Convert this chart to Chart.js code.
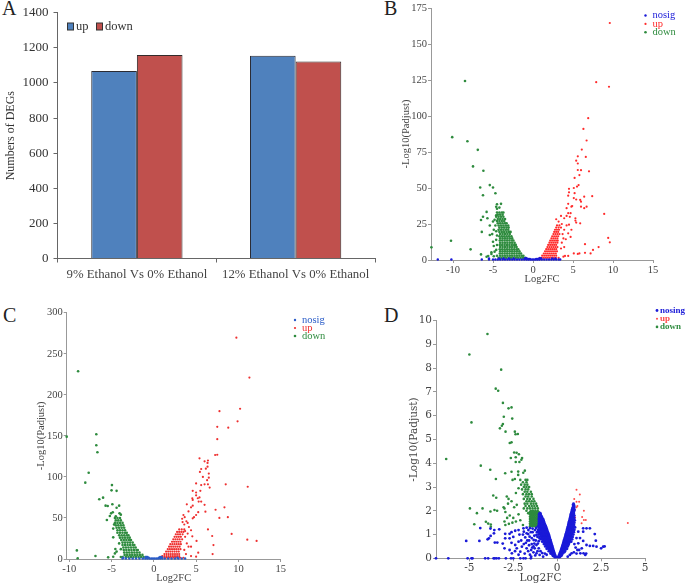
<!DOCTYPE html>
<html>
<head>
<meta charset="utf-8">
<script src="https://cdn.jsdelivr.net/npm/chart.js@4"></script>
<style>
  body { margin: 0; background: #fff; width: 685px; height: 583px; overflow: hidden; position: relative; }
  canvas { position: absolute; }
  .tag { position: absolute; font: 20px "Liberation Serif", serif; color: #222; }
</style>
</head>
<body>
<div class="tag" style="left:2px;top:-3px">A</div>
<div class="tag" style="left:384px;top:-3px">B</div>
<div class="tag" style="left:3px;top:304px">C</div>
<div class="tag" style="left:384px;top:304px">D</div>
<canvas id="chartA" width="380" height="295" style="left:0;top:0"></canvas>
<canvas id="chartB" width="305" height="295" style="left:380px;top:0"></canvas>
<canvas id="chartC" width="345" height="285" style="left:0;top:300px"></canvas>
<canvas id="chartD" width="305" height="285" style="left:380px;top:300px"></canvas>
<script>
// panel A values
const categoriesA = ['9% Ethanol Vs 0% Ethanol', '12% Ethanol Vs 0% Ethanol'];
const upA = [1068, 1155];
const downA = [1160, 1122];

// panels B, C, D: single points are [x, y], dense clouds are rows [y, x, x, x...]
const legendBC = ['nosig', 'up', 'down'];
const legendD = ['nosing', 'up', 'down'];

const upB = [[9.6,164.6],[7.9,123.5],[9.5,120.3],[6.9,98.5],[6.3,91],[6.7,83],[6.1,76.7],[5.6,72],[6.6,71.6],[5.4,69],[5.6,67],[7,61.6],[5.6,62.5],[6,62.4],[5.8,59],[5.2,57],[5.7,52],[5.5,51],[5.1,50],[4.5,49.4],[4.5,47],[5.2,46.4],[7.4,44.3],[6.4,44],[5.1,43],[5.4,42],[5.9,41.7],[4.4,44.7],[4.4,39],[4.9,37.5],[6.7,37],[6.4,36],[4.2,36],[4.8,37],[8.9,32],[6,37],[6,40.5],[4.7,32.5],[4.4,32.5],[4.2,30.6],[3.5,30.6],[4.6,30],[3.9,29],[5.3,29],[5.3,27.4],[3.2,26.7],[5.4,26],[5.9,25.5],[2.9,28.3],[9.4,15.3],[9.6,12.3],[6.5,11],[8.2,9],[7.5,7],[7.2,4.6],[6.5,5],[5.8,4.6],[5.6,4.2],[5.1,4.6],[4.4,2.8],[4,2.8],[3.8,2.3],[4.8,21],[4.4,18.5],[4.7,16],[4.1,14.4],[3.9,21],[4.2,24],[3.7,18],[3.6,12],[3.9,9],[4.5,24.5],[3.6,25],[3.8,15],[3.5,8]];
const upRowsB = [[24,3,3.3],[22.5,2.9,3.2,3.5],[21,2.75,3,3.25],[19.5,2.65,2.9,3.15],[18,2.55,2.8,3.05,3.3],[16.5,2.4,2.65,2.9,3.15],[15,2.3,2.55,2.8,3.05],[13.5,2.15,2.4,2.65,2.9,3.1],[12,2.05,2.3,2.55,2.8,3.05],[10.5,1.9,2.15,2.4,2.65,2.9],[9,1.8,2.05,2.3,2.55,2.8,3.05],[7.5,1.65,1.9,2.15,2.4,2.65,2.9],[6,1.5,1.75,2,2.25,2.5,2.75,3],[4.5,1.35,1.6,1.85,2.1,2.35,2.6,2.85],[3,1.15,1.4,1.65,1.9,2.15,2.4,2.65,2.9],[1.5,0.85,1.1,1.35,1.6,1.85,2.1,2.35,2.6,2.85,3.2]];
const downB = [[-8.5,124.3],[-10.1,85.3],[-8.2,82.5],[-6.9,76.5],[-7.5,65],[-6.2,62],[-5.4,52],[-5,50.3],[-6.6,50.3],[-4.7,46.4],[-6.25,45],[-4,39],[-4.5,38.7],[-4.6,37],[-5.8,33.4],[-3.7,33],[-4.5,35.6],[-4.2,36.4],[-6.25,30],[-6.5,27.8],[-5.7,29],[-4.8,28],[-5,26.7],[-6.4,19.5],[-5.4,17.4],[-5.4,24],[-10.25,13.4],[-12.7,8.8],[-7.8,7.4],[-6.5,3.9],[-5.8,2.3],[-5.6,2.8],[-5.2,4.2],[-5,12.7],[-4.6,14],[-4.9,9.7],[-4.5,10.4],[-5.2,5.3],[-4.8,5.8],[-4.9,21],[-4.7,24],[-5.1,18],[-4.6,31],[-4.9,2.6],[-4.6,20],[-4.5,17],[-4.6,7],[-4.5,3]];
const downRowsB = [[33,-4.5,-4.2,-3.9],[31.5,-4.4,-4.1,-3.8],[30,-4.6,-4.3,-4,-3.7],[28.5,-4.4,-4.1,-3.8,-3.5],[27,-4.5,-4.2,-3.9,-3.6],[25.5,-4.4,-4.1,-3.8,-3.5,-3.3],[24,-4.3,-4,-3.7,-3.4,-3.1],[22.5,-4.2,-3.9,-3.6,-3.3,-3.05],[21,-4.3,-4,-3.7,-3.4,-3.1],[19.5,-4.2,-3.9,-3.6,-3.3,-3,-2.8],[18,-4.1,-3.8,-3.5,-3.2,-2.9],[16.5,-4.2,-3.9,-3.6,-3.3,-3,-2.7],[15,-4.1,-3.8,-3.5,-3.2,-2.9,-2.6],[13.5,-4.15,-3.85,-3.55,-3.25,-2.95,-2.65,-2.45],[12,-4.1,-3.8,-3.5,-3.2,-2.9,-2.6,-2.3],[10.5,-4.15,-3.85,-3.55,-3.25,-2.95,-2.65,-2.35,-2.15],[9,-4.1,-3.8,-3.5,-3.2,-2.9,-2.6,-2.3,-2.05],[7.5,-4.15,-3.85,-3.55,-3.25,-2.95,-2.65,-2.35,-2.05,-1.85],[6,-4.1,-3.8,-3.5,-3.2,-2.9,-2.6,-2.3,-2,-1.7],[4.5,-4.15,-3.85,-3.55,-3.25,-2.95,-2.65,-2.35,-2.05,-1.75,-1.5],[3,-4.1,-3.8,-3.5,-3.2,-2.9,-2.6,-2.3,-2,-1.7,-1.4,-1.2],[1.5,-4.3,-3.95,-3.65,-3.35,-3.05,-2.75,-2.45,-2.15,-1.85,-1.55,-1.25,-0.95]];
const nosigRowsB = [[1.2,-1,-0.8,0.8,1],[0.7,-0.85,-0.6,-0.4,0.4,0.6,0.85],[0.3,-11.9,-10.2,-6.4,-5.5,-5,-4.7,-4.4,-4.1,-3.8,-3.5,-3.2,-2.9,-2.6,-2.3,-2,-1.7,-1.4,-1.1,-0.8,-0.55,-0.3,-0.1,0.1,0.3,0.55,0.8,1.1,1.4,1.7,2,2.3,2.6,2.9,3.2,3.4],[1,-5.5,-4.2,-3.7,-3,-2.4,2.4,2.8]];

const upC = [[9.76,269.6],[11.3,221],[7.76,180],[10.2,183],[9.9,167.7],[8.8,160],[7.5,161],[7.5,146],[7.5,127],[7.25,126.7],[5.4,122.6],[6.4,120],[6,119],[6.35,117],[6.35,112.5],[6.15,110],[5.6,109.6],[5.45,106],[6.5,104],[6.5,99],[5.8,100],[6.3,96],[5,92],[8.5,91],[6.4,91],[5.6,90],[6,91],[11.1,88],[5.5,83],[6.6,87],[4.6,83],[5,81],[5,77.5],[4.55,74],[5.2,74],[5.4,75],[5.6,70],[5.3,70],[4.6,72],[6,66],[3.9,66.6],[4.6,65],[4.4,63],[7.3,60],[8.35,63],[6.1,57.6],[5.25,57],[4.1,58],[5,53.6],[3.5,53.6],[7.75,50],[8.75,51],[4.6,49.5],[4.75,51],[3.65,51],[3.35,49],[3.85,46],[6.4,36],[9.2,30.5],[6.9,28],[4.15,39],[4.4,35],[4,31],[4,44],[3.6,42],[3.4,45],[11.05,23.5],[12.15,22],[5.05,22],[4.55,27.6],[7.05,17],[4.1,15],[4.4,15],[6.95,6],[5.25,7.7],[5,2.8],[4.4,3.6],[3.7,27],[3.9,19],[3.7,34],[3.6,11],[3.8,6]];
const upRowsC = [[36,3,3.3,3.6],[33,2.75,3,3.25,3.5],[30,2.6,2.85,3.1,3.4],[27,2.45,2.7,2.95,3.2],[24,2.3,2.55,2.8,3.05,3.35],[21,2.15,2.4,2.65,2.9,3.15],[18,1.95,2.2,2.45,2.7,2.95,3.2],[15,1.8,2.05,2.3,2.55,2.8,3.05],[12,1.65,1.9,2.15,2.4,2.65,2.9,3.15],[9,1.45,1.7,1.95,2.2,2.45,2.7,2.95],[6,1.25,1.5,1.75,2,2.25,2.5,2.75,3],[3.5,1,1.25,1.5,1.75,2,2.25,2.5,2.75,3],[1.5,0.8,1.05,1.3,1.55,1.8,2.05,2.3,2.55,2.8,3.1,3.5]];
const downC = [[-8.95,228.6],[-6.8,152],[-6.8,138.5],[-6.67,130],[-7.7,105],[-8.1,93],[-4.95,90],[-5,83.6],[-4.4,83],[-6,74.7],[-6.45,72.7],[-4.9,66.6],[-5.7,65],[-5.45,64.5],[-4.1,65],[-4.4,62.5],[-5.05,55.6],[-4.85,57],[-5.2,52.4],[-4.05,55.6],[-5.55,47.5],[-4.8,26.4],[-9.1,10.5],[-9,1],[-10.3,149],[-6.9,3.6],[-5.4,2],[-4.55,12.2],[-4.4,9],[-4.8,2.8],[-4.6,6.8],[-3.9,54],[-4.5,52],[-3.9,12],[-4.1,19],[-3.9,2.5],[-4.7,42],[-4.8,37]];
const downRowsC = [[50,-4.6,-4.3,-4],[47,-4.5,-4.2,-3.9],[44,-4.6,-4.3,-4,-3.7],[41,-4.5,-4.2,-3.9,-3.6],[38,-4.4,-4.1,-3.8,-3.5],[35,-4.3,-4,-3.7,-3.4],[32,-4.3,-4,-3.7,-3.4,-3.2],[29,-4.1,-3.8,-3.5,-3.2,-3],[26,-4,-3.7,-3.4,-3.1,-2.85],[23,-3.85,-3.55,-3.25,-2.95,-2.7],[20,-3.7,-3.4,-3.1,-2.8,-2.5],[17,-3.7,-3.4,-3.1,-2.8,-2.5,-2.3],[14,-3.6,-3.3,-3,-2.7,-2.4,-2.15],[11,-3.55,-3.25,-2.95,-2.65,-2.35,-2.05,-1.9],[8,-3.5,-3.2,-2.9,-2.6,-2.3,-2,-1.7],[5,-3.45,-3.15,-2.85,-2.55,-2.25,-1.95,-1.65,-1.35],[2.5,-3.7,-3.3,-3,-2.7,-2.4,-2.1,-1.8,-1.5,-1.2,-0.9]];
const nosigRowsC = [[2.5,-0.95,-0.75,0.75,0.95],[1.5,-3.6,-0.85,-0.6,0.6,0.85,2.8],[0.6,-3.7,-3.3,-2.9,-2.5,-2.1,-1.7,-1.3,-1,-0.75,-0.5,-0.3,-0.1,0.1,0.3,0.5,0.75,1,1.3,1.7,2.1,2.5,2.9,3.3,3.7]];

const upD = [[1.1,2.89],[1.29,2.69],[0.97,2.5],[1.1,2.38],[1.25,2.38],[1.1,2.15],[1,2.03],[1.15,2.2],[1.52,2],[1.42,1.74],[1.02,1.72],[1.52,1.61],[1.63,1.61],[1.39,1.47],[4.02,1.49]];
const downD = [[-3.97,9.44],[-5,8.58],[-3.19,7.94],[-3.5,7.14],[-3.36,7.05],[-3.09,6.54],[-2.77,6.31],[-2.6,6.35],[-3.04,5.96],[-2.56,5.88],[-4.88,5.72],[-3.09,5.65],[-3.15,5.58],[-3.26,5.47],[-2.94,5.33],[-2.41,5.33],[-2.37,5.22],[-2.24,5.23],[-2.7,4.85],[-2.6,4.88],[-2.45,4.45],[-2.31,4.44],[-2.18,4.38],[-2.64,4.22],[-2.36,4.25],[-2,4.22],[-2.04,4.15],[-2.36,4.05],[-2.15,4.05],[-6.32,4.18],[-4.35,3.9],[-3.81,3.73],[-2.96,3.58],[-2.6,3.64],[-2.22,3.65],[-1.84,3.69],[-1.93,3.6],[-2.22,3.51],[-2.54,3.3],[-2.41,3.34],[-3.49,3.34],[-3.64,2.64],[-3.47,2.55],[-2.87,2.6],[-2.77,2.5],[-4.97,2.1],[-4.25,2.1],[-4.57,1.9],[-4.72,1.43],[-3.57,2.03],[-3.42,2],[-3.8,1.97],[-4.06,1.54],[-3.93,1.46],[-3.78,1.42],[-3.78,1.33],[-3,2.1],[-2.95,1.95],[-3,1.55],[-2.95,1.4],[-2.8,2.3],[-2.6,2.4],[-2.45,2.15],[-2.3,2.25],[-2.7,1.8],[-2.5,1.7],[-2.2,1.85],[-2.75,1.45],[-2.55,1.5],[-2.1,1.6],[-2.85,1.7],[-2.35,1.55],[-1.95,1.4],[-3.05,2.15],[-2.2,2.95],[-2.35,2.75]];
const downRowsD = [[3.3,-2.1,-1.8,-1.7],[3.2,-1.95,-1.75],[3.1,-2.05,-1.85,-1.7],[3,-1.9,-1.75,-1.6],[2.9,-2,-1.8,-1.65],[2.8,-1.85,-1.7,-1.5],[2.7,-1.95,-1.75,-1.6,-1.45],[2.6,-1.8,-1.65,-1.45],[2.5,-1.9,-1.7,-1.55,-1.35],[2.4,-1.75,-1.6,-1.45,-1.3],[2.3,-1.85,-1.7,-1.5,-1.35,-1.2],[2.2,-1.8,-1.6,-1.45,-1.3,-1.15],[2.1,-1.9,-1.7,-1.55,-1.4,-1.25,-1.1],[2,-1.75,-1.5,-1.37,-1.24,-1.11],[1.95,-1.55,-1.42,-1.3,-1.17,-1.05],[1.9,-1.65,-1.5,-1.37,-1.24,-1.11],[1.85,-1.55,-1.42,-1.3,-1.17,-1.05],[1.8,-1.5,-1.37,-1.24,-1.11],[1.75,-1.55,-1.42,-1.3,-1.17,-1.03],[1.7,-1.5,-1.37,-1.24,-1.11],[1.65,-1.55,-1.42,-1.3,-1.17,-1.03],[1.6,-1.5,-1.37,-1.24,-1.11],[1.55,-1.55,-1.42,-1.3,-1.17,-1.03],[1.5,-1.5,-1.37,-1.24,-1.11],[1.45,-1.55,-1.42,-1.3,-1.17,-1.03],[1.4,-1.5,-1.37,-1.24,-1.11],[1.35,-1.55,-1.42,-1.3,-1.17,-1.03]];
const nosingD = [[-6.9,0],[-6.2,0],[-5.1,0],[-4.88,0],[-4.82,0],[-4.1,0],[-3.93,0],[-3.62,0],[-3.55,0],[-3.45,0],[-3.32,0],[-2.92,0],[-2.63,0],[-2.5,0],[-2.1,0],[-1.92,0],[-1.8,0],[-1.5,0],[-5.18,0.73],[-4.43,0.73],[-4.38,1.27],[-3.89,0.84],[-3.96,0.8],[-3.79,0.94],[-3.58,1.19],[-3.6,1.05],[-3.41,0.66],[-3.55,0.66],[-2.96,1.03],[-2.96,0.84],[-2.71,1.03],[-2.71,0.84],[-3,0.42],[-2.71,0.35],[-2.58,0.21],[-2.39,0.56],[-2.2,0.7],[-2.39,1.16],[-2.2,1.19],[-1.92,1.26],[-1.74,1.29],[-1.64,1.19],[-1.74,1.05],[-1.82,0.88],[-2.01,0.49],[-1.74,0.42],[-1.48,0.35],[-1.57,0.91],[-1.34,0.77],[-1.28,0.42],[-1.48,0.07],[-1.18,0.21],[-1,0.14],[-0.8,0.07],[-1.18,0.56],[-1.27,1.19],[-1.18,0.98],[-1,0.84],[-2.3,0.42],[-2.1,0.28],[-1.9,0.6],[-1.6,0.55],[-1.4,1.1],[-2.6,0.65],[-3.1,0.62],[-3.8,1.25],[-1.6,0.75],[-1.45,0.6],[-1.3,0.95],[-1.5,1.1],[-1.2,1.28],[-1.15,1.1],[-1.22,0.75],[-1.1,0.62],[-1.05,0.42],[-0.95,0.3],[-0.85,0.22],[-1.35,0.25],[-1.7,0.75],[-1.95,1],[-2.05,0.75],[-1.4,1.25],[-1.55,1.27],[-0.7,0.2],[-0.6,0.15],[-2.15,1],[-2.5,0.9],[-2.4,0.3],[-2.2,0.15],[-1.85,0.2],[-1.65,0.3],[-1.55,0.15],[-1.9,1.12],[-1.45,0.85],[-1.35,0.5],[-1.12,0.3],[-1.25,0.12],[-1.05,0.72],[-1.12,0.9],[-1.3,0.62],[-1.42,0.45],[-1.65,1.02],[-1.78,0.65],[-2.6,1.1],[-3.3,1.22],[1.67,1.26],[1.86,1.26],[2.14,1.02],[1.67,0.56],[1.86,0.52],[2.05,0.52],[2.2,0.74],[2.24,0.49],[2.5,0.42],[2.62,0.49],[2.7,0.5],[1.48,1.26],[1.48,1.12],[1.48,0.73],[1.25,0.35],[1.32,0.21],[1.5,0.21],[1.6,0.14],[0.72,0.14],[0.82,0.21],[0.6,0.07],[1.2,0.63],[1.4,0.42],[1.2,1.12],[1.1,0.85],[1.05,0.45],[1.3,0.85],[1.65,0.2],[0.95,0.25],[1.1,0.2],[1.15,0.35],[0.98,0.6]];
const nosingRowsD = [
  [1.9,-1,-0.96],[1.85,-1.03,-0.95],[1.8,-1,-0.92],[1.75,-1.04,-0.96,-0.88],[1.7,-1,-0.92,-0.85],[1.65,-1.05,-0.96,-0.87,-0.8],[1.6,-1,-0.92,-0.84,-0.78],[1.55,-1.04,-0.95,-0.87,-0.76],[1.5,-1,-0.91,-0.82,-0.74],[1.45,-1.05,-0.96,-0.87,-0.78,-0.71],[1.4,-1.02,-0.93,-0.84,-0.75,-0.68],[1.35,-1.08,-0.98,-0.89,-0.8,-0.71,-0.65],[1.3,-1.05,-0.95,-0.86,-0.77,-0.68,-0.63],[1.25,-1,-0.92,-0.83,-0.74,-0.66,-0.6],[1.2,-1.1,-0.98,-0.89,-0.8,-0.71,-0.63,-0.58],[1.15,-1.04,-0.95,-0.86,-0.77,-0.68,-0.6,-0.56],[1.1,-1.1,-0.92,-0.83,-0.74,-0.66,-0.58,-0.53],[1.05,-1,-0.89,-0.8,-0.71,-0.63,-0.55,-0.51],[1,-1.06,-0.95,-0.86,-0.77,-0.68,-0.6,-0.52,-0.48],[0.95,-0.92,-0.83,-0.74,-0.65,-0.57,-0.5,-0.46],[0.9,-1,-0.88,-0.79,-0.7,-0.62,-0.54,-0.44],[0.85,-0.85,-0.76,-0.67,-0.59,-0.51,-0.42],[0.8,-0.92,-0.81,-0.72,-0.64,-0.56,-0.48,-0.4],[0.75,-0.78,-0.69,-0.6,-0.52,-0.45,-0.38],[0.7,-0.85,-0.74,-0.65,-0.57,-0.49,-0.42,-0.36],[0.65,-0.71,-0.62,-0.54,-0.46,-0.39,-0.34],[0.6,-0.76,-0.67,-0.58,-0.5,-0.43,-0.37,-0.32],[0.55,-0.63,-0.55,-0.47,-0.4,-0.34,-0.3],[0.5,-0.68,-0.59,-0.51,-0.44,-0.37,-0.28],[0.45,-0.55,-0.47,-0.4,-0.33,-0.26],[0.4,-0.6,-0.5,-0.43,-0.36,-0.3,-0.24],[0.35,-0.45,-0.38,-0.31,-0.22],[0.3,-0.48,-0.4,-0.33,-0.27,-0.2],[0.25,-0.35,-0.28,-0.22,-0.18],[0.2,-0.38,-0.3,-0.23,-0.16],[0.15,-0.27,-0.2,-0.13],[0.1,-0.24,-0.16,-0.1],[0.05,-0.15,-0.08,0,0.08,0.15],
  [2.3,0.93],[2.25,0.95,0.9],[2.2,0.92,0.97],[2.15,0.9,0.96],[2.1,0.87,0.95],[2.05,0.85,0.92,0.98],[2,0.84,0.9,0.97],[1.95,0.82,0.89,0.95],[1.9,0.8,0.87,0.94],[1.85,0.78,0.85,0.93],[1.8,0.77,0.84,0.91,0.98],[1.75,0.75,0.82,0.9],[1.7,0.73,0.8,0.88,0.97],[1.65,0.72,0.79,0.87,0.95],[1.6,0.7,0.77,0.85,0.93,1],[1.55,0.68,0.76,0.84,0.92],[1.5,0.66,0.74,0.82,0.9,0.98],[1.45,0.65,0.73,0.81,0.89],[1.4,0.63,0.71,0.79,0.87,0.96],[1.35,0.62,0.7,0.78,0.86,0.94],[1.3,0.6,0.68,0.76,0.84,0.93,1.02],[1.25,0.58,0.66,0.74,0.82,0.9],[1.2,0.56,0.64,0.72,0.81,0.9,0.98],[1.15,0.55,0.63,0.71,0.79,0.87],[1.1,0.53,0.61,0.69,0.77,0.86,0.95],[1.05,0.51,0.59,0.67,0.75,0.84],[1,0.49,0.57,0.65,0.73,0.82,0.92],[0.95,0.47,0.55,0.63,0.71,0.8],[0.9,0.45,0.53,0.61,0.69,0.78,0.88],[0.85,0.43,0.51,0.59,0.67,0.76],[0.8,0.41,0.49,0.57,0.65,0.74,0.85],[0.75,0.39,0.47,0.55,0.63,0.72],[0.7,0.37,0.45,0.53,0.61,0.7,0.8],[0.65,0.35,0.43,0.51,0.59,0.68],[0.6,0.33,0.41,0.49,0.57,0.66],[0.55,0.31,0.39,0.47,0.55,0.62],[0.5,0.29,0.37,0.45,0.53,0.6],[0.45,0.27,0.35,0.43,0.51],[0.4,0.24,0.32,0.4,0.48,0.56],[0.35,0.22,0.3,0.38,0.46],[0.3,0.2,0.28,0.36,0.44],[0.25,0.17,0.25,0.33,0.4],[0.2,0.15,0.23,0.3],[0.15,0.12,0.2,0.27],[0.1,0.09,0.16,0.23]
];

// rows [y, x, x...] -> chart points
function fromRows(rows) {
  const out = [];
  rows.forEach(r => r.slice(1).forEach(x => out.push({ x: x, y: r[0] })));
  return out;
}
const pairs = list => list.map(p => ({ x: p[0], y: p[1] }));

// legend drawn inside the plot, reads labels and colours from the datasets
const insideLegend = {
  id: 'insideLegend',
  afterDraw(chart, args, o) {
    const ctx = chart.ctx;
    ctx.save();
    ctx.font = o.font;
    ctx.textBaseline = 'middle';
    chart.data.datasets.forEach((ds, i) => {
      if (o.bar) {
        const x = o.x + o.gaps[i];
        ctx.fillStyle = ds.backgroundColor;
        ctx.strokeStyle = '#333';
        ctx.fillRect(x, o.y - 3.5, 7, 7);
        ctx.strokeRect(x + 0.5, o.y - 3.5, 6, 7);
        ctx.fillStyle = '#333';
        ctx.fillText(ds.label, x + 9, o.y);
      } else {
        const y = o.y + i * o.dy;
        ctx.fillStyle = ds.pointBackgroundColor;
        ctx.beginPath();
        ctx.arc(o.x, y, ds.pointRadius, 0, Math.PI * 2);
        ctx.fill();
        ctx.fillText(ds.label, o.x + o.gap, y);
      }
    });
    ctx.restore();
  }
};

// fixes the plot area inside the canvas: left/right/top/bottom in canvas pixels
function axisBox(canvas, box, vertical) {
  return vertical
    ? s => { s.width = box.left; }
    : s => { s.height = canvas.height - box.bottom; };
}

const serif = '"Liberation Serif", serif';
const dejavu = '"DejaVu Serif", serif';

function volcano(id, box, names, colors, series, xr, yr, look) {
  const canvas = document.getElementById(id);
  const font = { family: look.family, size: look.size };
  return new Chart(canvas, {
    type: 'scatter',
    data: {
      datasets: series.map((pts, i) => ({
        label: names[i],
        data: pts,
        pointRadius: look.radius[i],
        pointBackgroundColor: colors[i],
        pointBorderWidth: 0
      }))
    },
    plugins: [insideLegend],
    options: {
      responsive: false,
      animation: false,
      clip: false,
      layout: { padding: { left: 0, top: box.top, right: canvas.width - box.right, bottom: 0 } },
      plugins: {
        legend: { display: false },
        tooltip: { enabled: false },
        insideLegend: look.legend
      },
      scales: {
        x: {
          type: 'linear',
          min: xr[0],
          max: xr[1],
          afterFit: axisBox(canvas, box, false),
          title: { display: true, text: 'Log2FC', color: '#444', font: font, padding: { top: 0, bottom: look.xTitlePad } },
          ticks: { stepSize: xr[2], includeBounds: false, color: '#444', font: font, padding: 1, maxRotation: 0 },
          grid: { drawOnChartArea: false, tickLength: 3, color: '#999' },
          border: { color: '#999' }
        },
        y: {
          type: 'linear',
          min: 0,
          max: yr[0],
          afterFit: axisBox(canvas, box, true),
          title: { display: true, text: look.yTitle, color: '#444', font: font, padding: { top: look.yTitlePad, bottom: 0 } },
          ticks: { stepSize: yr[1], color: '#444', font: font, padding: 1 },
          grid: { drawOnChartArea: false, tickLength: 3, color: '#999' },
          border: { color: '#999' }
        }
      }
    }
  });
}

// panel A
const canvasA = document.getElementById('chartA');
const boxA = { left: 57.5, right: 375, top: 12.5, bottom: 258.5 };
new Chart(canvasA, {
  type: 'bar',
  data: {
    labels: categoriesA,
    datasets: [
      { label: 'up', data: upA, backgroundColor: '#4f81bd', borderColor: '#2b2b33', borderWidth: 1 },
      { label: 'down', data: downA, backgroundColor: '#c0504d', borderColor: '#332b2b', borderWidth: 1 }
    ]
  },
  plugins: [insideLegend],
  options: {
    responsive: false,
    animation: false,
    layout: { padding: { left: 0, top: boxA.top, right: canvasA.width - boxA.right, bottom: 0 } },
    datasets: { bar: { categoryPercentage: 0.575, barPercentage: 1 } },
    plugins: {
      legend: { display: false },
      tooltip: { enabled: false },
      insideLegend: { bar: true, x: 67, y: 26.5, gaps: [0, 29], font: '12.5px ' + serif }
    },
    scales: {
      x: {
        afterFit: axisBox(canvasA, boxA, false),
        ticks: { color: '#444', font: { family: serif, size: 12.8 }, padding: 4, maxRotation: 0 },
        grid: { drawOnChartArea: false, tickLength: 4, color: '#666' },
        border: { color: '#666' }
      },
      y: {
        min: 0,
        max: 1400,
        afterFit: axisBox(canvasA, boxA, true),
        title: { display: true, text: 'Numbers of DEGs', color: '#333', font: { family: serif, size: 12 }, padding: { top: 4, bottom: 0 } },
        ticks: { stepSize: 200, color: '#333', font: { family: serif, size: 13 }, padding: 5, callback: v => String(v) },
        grid: { drawOnChartArea: false, tickLength: 4, color: '#666' },
        border: { color: '#666' }
      }
    }
  }
});

// panel B
volcano('chartB', { left: 51, right: 273, top: 8, bottom: 260 }, legendBC,
  ['#1a1ad8', '#ff2a2a', '#2e8b3e'],
  [fromRows(nosigRowsB), pairs(upB).concat(fromRows(upRowsB)), pairs(downB).concat(fromRows(downRowsB))],
  [-12.75, 15, 5], [175, 25],
  { family: serif, size: 10.5, radius: [1.2, 1.1, 1.3], yTitle: '-Log10(Padjust)', xTitlePad: 9, yTitlePad: 20,
    legend: { x: 265.5, y: 15.5, dy: 8.4, gap: 7, font: '10.5px ' + serif } });

// panel C
volcano('chartC', { left: 66.7, right: 280.7, top: 12.7, bottom: 259 }, legendBC,
  ['#2a5cc8', '#ee3030', '#2e8b3e'],
  [fromRows(nosigRowsC), pairs(upC).concat(fromRows(upRowsC)), pairs(downC).concat(fromRows(downRowsC))],
  [-10.3, 15, 5], [300, 50],
  { family: serif, size: 10.5, radius: [1.2, 1.1, 1.3], yTitle: '-Log10(Padjust)', xTitlePad: 0, yTitlePad: 35,
    legend: { x: 295, y: 20, dy: 8, gap: 7, font: '10.5px ' + serif } });

// panel D
volcano('chartD', { left: 56, right: 265, top: 20.7, bottom: 258.3 }, legendD,
  ['#1a1ad8', '#ff4a4a', '#2e8b3e'],
  [pairs(nosingD).concat(fromRows(nosingRowsD)), pairs(upD), pairs(downD).concat(fromRows(downRowsD))],
  [-6.9, 5, 2.5], [10, 1],
  { family: dejavu, size: 10.5, radius: [1.4, 1, 1.3], yTitle: '-Log10(Padjust)', xTitlePad: 0, yTitlePad: 28,
    legend: { x: 277, y: 10.5, dy: 8.2, gap: 3, font: 'bold 9px ' + serif } });
</script>
</body>
</html>
